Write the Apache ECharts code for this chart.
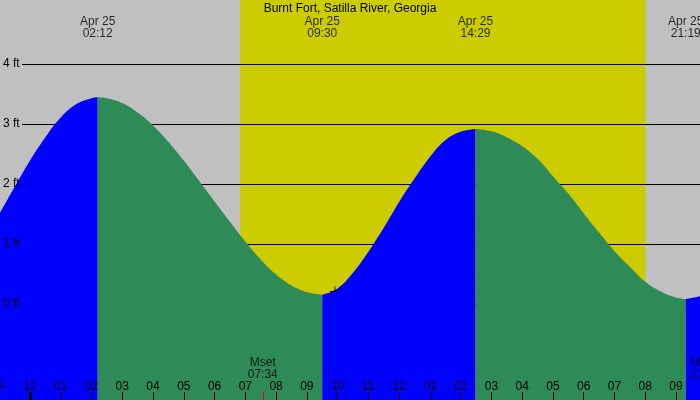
<!DOCTYPE html>
<html><head><meta charset="utf-8">
<script src="https://cdn.jsdelivr.net/npm/echarts@6/dist/echarts.min.js"></script>
<style>html,body{margin:0;padding:0;background:#c0c0c0}#c{width:700px;height:400px}</style>
</head><body><div id="c"></div>
<script>
// ---- data (hours since midnight Apr 25, feet) ----
const title = 'Burnt Fort, Satilla River, Georgia';
const times   = [-0.975, -0.5, 0, 0.5, 1, 1.5, 2.0, 2.2, 2.5, 3, 3.5, 4, 4.5, 5, 5.5, 6, 6.5, 7, 7.5, 8, 8.5, 9, 9.5,
                 10, 10.5, 11, 11.5, 12, 12.5, 13, 13.5, 14, 14.483, 15, 15.5, 16, 16.5, 17, 17.5, 18, 18.5, 19, 19.5, 20, 20.5, 21, 21.317, 21.78];
const heights = [1.52, 1.95, 2.39, 2.78, 3.11, 3.33, 3.43, 3.445, 3.43, 3.35, 3.19, 2.975, 2.70, 2.39, 2.05, 1.71, 1.37, 1.04, 0.74, 0.49, 0.31, 0.20, 0.155,
                 0.26, 0.52, 0.87, 1.27, 1.70, 2.09, 2.45, 2.73, 2.87, 2.917, 2.88, 2.78, 2.63, 2.42, 2.13, 1.84, 1.51, 1.19, 0.88, 0.62, 0.37, 0.21, 0.11, 0.083, 0.13];
const extremeTimes  = [2.2, 9.5, 14.483, 21.317];
const extremeLabels = ['02:12', '09:30', '14:29', '21:19'];
const extremeDate = 'Apr 25';
const sunTimes = [6.83, 20.01];           // sunrise, sunset
const moonTimes = [7.567, 21.95];
const moonLabels = ['Mset\n07:34', 'Mrise\n21:57'];
const nowPoint = [9.915, 0.21];
const hourTicks  = [-1,0,1,2,3,4,5,6,7,8,9,10,11,12,13,14,15,16,17,18,19,20,21];
const hourLabels = ['11','12','01','02','03','04','05','06','07','08','09','10','11','12','01','02','03','04','05','06','07','08','09'];
const ftLevels = [0, 1, 2, 3, 4];

// ---- layout ----
const X_MIN = -0.975, X_MAX = 21.78, Y_MIN = -1.6, Y_MAX = 5.0667;
const PX_FT = 60, PX_H = 30.76;
const TOP_LABEL_Y = Y_MAX - 27.5 / PX_FT;
const MOON_LABEL_Y = Y_MIN + 31.5 / PX_FT;
const HOUR_LABEL_Y = Y_MIN + 15 / PX_FT;
const GRID_X0 = X_MIN + 22 / PX_H;
const TICK_H = 8 / PX_FT;

const BLUE = '#0000ff', GREEN = '#2e8b57', YELLOW = '#cccc00';

// split tide into rising/falling segments
const idx = extremeTimes.map(t => times.indexOf(t));
const bounds = [0, ...idx, times.length - 1];
const segSeries = [];
for (let s = 0; s < bounds.length - 1; s++) {
  const a = bounds[s], b = bounds[s + 1];
  if (b <= a) continue;
  const data = [];
  for (let i = a; i <= b; i++) data.push([times[i], heights[i]]);
  const rising = heights[b] > heights[a];
  segSeries.push({
    type: 'line', data, smooth: 0.4, symbol: 'none', z: 3, silent: true,
    lineStyle: { width: 0 },
    areaStyle: { color: rising ? BLUE : GREEN, opacity: 1, origin: 'start' }
  });
}

const inRange = t => t >= X_MIN && t <= X_MAX;
const chart = echarts.init(document.getElementById('c'), null, { renderer: 'canvas' });
const font = 'Liberation Sans, Arial, sans-serif';
chart.setOption({
  animation: false,
  backgroundColor: '#c0c0c0',
  title: { text: title, left: 'center', top: -2, textStyle: { fontSize: 12, fontWeight: 'normal', color: '#000', fontFamily: font } },
  grid: { left: 0, right: 0, top: 0, bottom: 0 },
  xAxis: [{
    type: 'value', min: X_MIN, max: X_MAX, z: 10,
    axisLine: { show: false, onZero: false }, splitLine: { show: false },
    axisTick: { show: true, inside: true, length: 8, customValues: hourTicks, lineStyle: { color: '#000', width: 1 } },
    axisLabel: { show: true, inside: true, margin: 7, customValues: hourTicks.filter(inRange), fontSize: 12, color: '#000', fontFamily: font,
      formatter: v => hourLabels[hourTicks.indexOf(Math.round(v))] }
  }],
  yAxis: [{
    type: 'value', min: Y_MIN, max: Y_MAX, z: 10,
    axisLine: { show: false, onZero: false }, splitLine: { show: false }, axisTick: { show: false },
    axisLabel: { show: true, inside: true, margin: 3, customValues: ftLevels, fontSize: 12, color: '#000', fontFamily: font,
      formatter: v => v + ' ft' }
  }],
  series: [
    {
      type: 'line', data: [], z: 1, silent: true,
      markArea: { z: 0, silent: true, itemStyle: { color: YELLOW, opacity: 1 }, data: [[{ xAxis: sunTimes[0] }, { xAxis: sunTimes[1] }]] },
      markLine: { z: 1, silent: true, symbol: 'none', label: { show: false }, animation: false,
        lineStyle: { color: '#000', width: 1, type: 'solid' },
        data: ftLevels.map(v => [{ coord: [GRID_X0, v] }, { coord: [X_MAX, v] }]) }
    },
    ...segSeries,
    {
      type: 'scatter', z: 12, silent: true, symbolSize: 0, clip: false,
      data: extremeTimes.map((t, i) => [t, TOP_LABEL_Y, extremeLabels[i]]),
      label: { show: true, position: 'inside', color: '#000', fontSize: 12, lineHeight: 12, fontFamily: font, align: 'center',
        formatter: p => extremeDate + '\n' + p.data[2] }
    },
    {
      type: 'scatter', z: 12, silent: true, symbolSize: 0, clip: false,
      data: moonTimes.map((t, i) => [t, MOON_LABEL_Y, moonLabels[i]]),
      label: { show: true, position: 'inside', color: '#000', fontSize: 12, lineHeight: 12, fontFamily: font, align: 'center',
        formatter: p => p.data[2] }
    },
    {
      // hour labels whose tick lies just outside the plotted range (partly visible)
      type: 'scatter', z: 12, silent: true, symbolSize: 0, clip: false,
      data: hourTicks.map((t, i) => [t, HOUR_LABEL_Y, hourLabels[i]]).filter(d => !inRange(d[0])),
      label: { show: true, position: 'inside', color: '#000', fontSize: 12, fontFamily: font, align: 'center',
        formatter: p => p.data[2] }
    },
    {
      type: 'scatter', z: 12, silent: true, symbolSize: 10,
      symbol: 'path://M0,4.5H10V5.5H0Z M4.5,0H5.5V10H4.5Z',
      itemStyle: { color: '#000' },
      data: [nowPoint]
    },
    {
      type: 'line', data: [], z: 12, silent: true,
      markLine: { z: 12, silent: true, symbol: 'none', label: { show: false }, animation: false,
        data: [
          [{ coord: [0, Y_MIN], lineStyle: { color: '#000', width: 3, type: 'solid' } }, { coord: [0, Y_MIN + TICK_H] }],
          ...moonTimes.filter(inRange).map(t => [{ coord: [t, Y_MIN], lineStyle: { color: '#ff0000', width: 1, type: 'solid' } }, { coord: [t, Y_MIN + TICK_H] }])
        ] }
    }
  ]
});
</script></body></html>
